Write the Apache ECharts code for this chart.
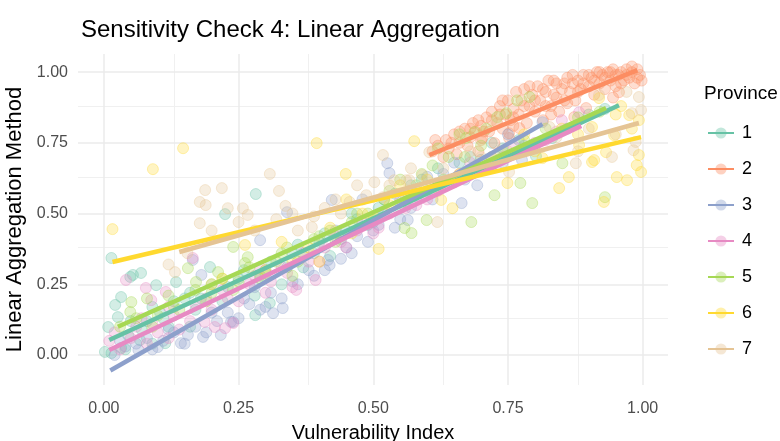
<!DOCTYPE html>
<html>
<head>
<meta charset="utf-8">
<script src="https://cdn.jsdelivr.net/npm/echarts@6/dist/echarts.min.js"></script>
<style>
  html, body { margin: 0; padding: 0; background: #fff; }
  #chart { width: 780px; height: 441px; }
</style>
</head>
<body>
<div id="chart"></div>
<script>
// tick positions
var xTicks = [0, 0.25, 0.5, 0.75, 1];
var yTicks = [0, 0.25, 0.5, 0.75, 1];
var xMinor = [0.125, 0.375, 0.625, 0.875];
var yMinor = [0.125, 0.375, 0.625, 0.875];

var provinces = ['1', '2', '3', '4', '5', '6', '7'];
var colors = ['#66c2a5', '#fc8d62', '#8da0cb', '#e78ac3', '#a6d854', '#ffd92f', '#e5c494'];

// points per province, [vulnerability index, linear aggregation]
var p1 = [[0.002,0.011],[0.014,0.007],[0.032,0.025],[0.008,0.099],[0.026,0.134],[0.021,0.177],[0.032,0.205],[0.014,0.343],
  [0.049,0.276],[0.054,0.283],[0.069,0.29],[0.097,0.247],[0.134,0.258],[0.104,0.152],[0.067,0.053],[0.114,0.042],[0.197,0.311],
  [0.045,0.07],[0.08,0.12],[0.12,0.1],[0.15,0.2],[0.17,0.16],[0.22,0.19],[0.25,0.27],[0.28,0.21],[0.281,0.141],[0.308,0.184],
  [0.3,0.3],[0.33,0.25],[0.35,0.36],[0.37,0.31],[0.4,0.4],[0.42,0.35],[0.45,0.44],[0.47,0.48],[0.5,0.47],[0.52,0.55],[0.55,0.52],
  [0.57,0.6],[0.6,0.58],[0.62,0.66],[0.65,0.62],[0.68,0.7],[0.282,0.569],[0.225,0.498],[0.802,0.703],[0.832,0.767],[0.72,0.75],[0.9,0.85],
  [0.05,0.12],[0.07,0.09],[0.09,0.17],[0.11,0.13],[0.13,0.19],[0.16,0.22],[0.18,0.2],[0.2,0.25],[0.23,0.24],[0.26,0.3],[0.29,0.28],
  [0.31,0.33],[0.34,0.31],[0.36,0.39],[0.39,0.36],[0.41,0.43],[0.44,0.41],[0.46,0.5],[0.49,0.46],[0.51,0.52],[0.54,0.57],[0.56,0.54],
  [0.59,0.62],[0.63,0.61],[0.66,0.68],[0.7,0.69],[0.74,0.73],[0.77,0.76],[0.86,0.8],[0.93,0.87],[0.04,0.02],[0.09,0.04],[0.16,0.1]];
var p2 = [[0.61,0.72],[0.62,0.74],[0.63,0.7],[0.635,0.76],[0.64,0.73],[0.65,0.78],[0.655,0.71],[0.66,0.75],[0.67,0.8],[0.675,0.74],
  [0.68,0.77],[0.685,0.82],[0.69,0.79],[0.695,0.72],[0.7,0.81],[0.702,0.767],[0.71,0.84],[0.715,0.79],[0.72,0.86],[0.725,0.749],
  [0.73,0.82],[0.735,0.88],[0.74,0.8],[0.745,0.85],[0.75,0.9],[0.752,0.767],[0.755,0.83],[0.76,0.87],[0.765,0.93],[0.77,0.85],
  [0.771,0.802],[0.775,0.9],[0.78,0.94],[0.785,0.82],[0.79,0.88],[0.795,0.92],[0.8,0.86],[0.805,0.95],[0.81,0.9],[0.815,0.83],
  [0.82,0.93],[0.825,0.97],[0.83,0.88],[0.835,0.92],[0.84,0.96],[0.845,0.86],[0.85,0.94],[0.855,0.9],[0.86,0.98],[0.865,0.93],
  [0.87,0.96],[0.873,0.841],[0.875,0.9],[0.88,0.97],[0.885,0.94],[0.89,0.99],[0.895,0.873],[0.9,0.95],[0.905,0.98],[0.91,0.92],
  [0.915,1.0],[0.92,0.96],[0.925,0.99],[0.93,0.94],[0.935,1.0],[0.94,0.97],[0.945,1.01],[0.95,0.95],[0.955,0.99],[0.956,0.929],
  [0.96,1.0],[0.965,0.97],[0.97,1.01],[0.975,0.98],[0.98,1.0],[0.985,0.96],[0.99,1.01],[0.995,0.99],[0.998,0.97],[0.752,0.784],[0.7,0.76],
  [0.615,0.76],[0.645,0.75],[0.66,0.79],[0.68,0.8],[0.695,0.83],[0.705,0.79],[0.72,0.83],[0.735,0.85],[0.74,0.9],[0.76,0.84],
  [0.78,0.88],[0.79,0.95],[0.8,0.9],[0.815,0.94],[0.82,0.88],[0.835,0.97],[0.84,0.91],[0.855,0.96],[0.86,0.89],[0.87,0.99],
  [0.88,0.93],[0.89,0.96],[0.9,0.99],[0.91,0.97],[0.92,1.0],[0.93,0.98],[0.94,1.0],[0.95,0.99],[0.96,0.96],[0.97,0.99],
  [0.98,1.02],[0.99,0.98],[0.945,0.91],[0.83,0.85],[0.76,0.81]];
var p3 = [[0.02,0.0],[0.04,0.03],[0.064,0.018],[0.1,0.028],[0.143,0.042],[0.156,0.071],[0.184,0.064],[0.217,0.071],[0.236,0.117],
  [0.181,0.283],[0.165,0.336],[0.08,0.06],[0.12,0.09],[0.2,0.15],[0.26,0.2],[0.3,0.17],[0.314,0.148],[0.332,0.166],[0.35,0.26],
  [0.38,0.3],[0.416,0.336],[0.419,0.318],[0.45,0.38],[0.47,0.42],[0.5,0.44],[0.52,0.5],[0.55,0.48],[0.564,0.477],[0.58,0.56],
  [0.62,0.6],[0.29,0.406],[0.34,0.505],[0.423,0.548],[0.526,0.678],[0.53,0.643],[0.664,0.537],[0.693,0.6],[0.776,0.689],
  [0.814,0.823],[0.72,0.7],[0.75,0.78],[0.65,0.68],[0.6,0.63],[0.24,0.117],[0.28,0.24],[0.43,0.44],[0.48,0.55],
  [0.03,0.05],[0.06,0.04],[0.09,0.02],[0.11,0.05],[0.13,0.08],[0.15,0.04],[0.17,0.1],[0.19,0.08],[0.21,0.12],[0.23,0.15],
  [0.25,0.13],[0.27,0.18],[0.29,0.16],[0.31,0.22],[0.33,0.2],[0.36,0.25],[0.39,0.28],[0.41,0.3],[0.44,0.34],[0.46,0.36],
  [0.49,0.4],[0.51,0.46],[0.54,0.45],[0.57,0.52],[0.61,0.55],[0.63,0.64],[0.67,0.62],[0.7,0.66],[0.74,0.68],[0.78,0.74]];
var p4 = [[0.01,0.05],[0.03,0.02],[0.041,0.265],[0.078,0.237],[0.088,0.194],[0.115,0.223],[0.165,0.343],[0.24,0.113],[0.225,0.095],
  [0.206,0.099],[0.187,0.117],[0.06,0.1],[0.1,0.08],[0.13,0.14],[0.16,0.12],[0.19,0.2],[0.23,0.2],[0.27,0.25],[0.3,0.22],[0.35,0.24],
  [0.357,0.23],[0.393,0.265],[0.33,0.31],[0.38,0.33],[0.41,0.38],[0.44,0.4],[0.47,0.44],[0.5,0.43],[0.53,0.5],[0.56,0.52],[0.6,0.55],
  [0.63,0.6],[0.66,0.64],[0.7,0.66],[0.74,0.7],[0.78,0.72],[0.82,0.76],[0.882,0.858],[0.85,0.83],[0.29,0.31],
  [0.02,0.08],[0.05,0.06],[0.07,0.13],[0.09,0.11],[0.12,0.17],[0.14,0.09],[0.17,0.18],[0.2,0.16],[0.22,0.23],[0.25,0.19],
  [0.28,0.28],[0.31,0.26],[0.34,0.29],[0.37,0.36],[0.4,0.33],[0.43,0.42],[0.45,0.38],[0.48,0.47],[0.51,0.45],[0.55,0.55],
  [0.58,0.53],[0.62,0.58],[0.65,0.61],[0.68,0.68],[0.72,0.67],[0.76,0.74],[0.8,0.75],[0.84,0.79],[0.08,0.04],[0.12,0.06]];
var p5 = [[0.049,0.152],[0.051,0.187],[0.156,0.307],[0.171,0.258],[0.212,0.293],[0.262,0.325],[0.24,0.382],[0.267,0.346],
  [0.599,0.477],[0.571,0.431],[0.558,0.449],[0.682,0.47],[0.725,0.565],[0.795,0.537],[0.773,0.608],[0.851,0.678],[0.93,0.558],
  [0.767,0.9],[0.79,0.912],[0.747,0.855],[0.73,0.841],[0.688,0.788],[0.672,0.767],[0.09,0.1],[0.13,0.17],[0.2,0.22],[0.3,0.29],
  [0.33,0.36],[0.36,0.33],[0.4,0.42],[0.43,0.4],[0.46,0.47],[0.49,0.5],[0.52,0.55],[0.55,0.62],[0.58,0.6],[0.61,0.67],[0.64,0.7],
  [0.7,0.74],[0.62,0.73],[0.66,0.78],[0.35,0.28],[0.25,0.26],
  [0.03,0.1],[0.06,0.13],[0.08,0.2],[0.1,0.14],[0.12,0.21],[0.14,0.16],[0.17,0.23],[0.19,0.19],[0.22,0.27],[0.24,0.23],
  [0.27,0.31],[0.29,0.27],[0.32,0.33],[0.34,0.38],[0.37,0.35],[0.39,0.41],[0.42,0.44],[0.44,0.42],[0.47,0.5],[0.5,0.48],
  [0.53,0.58],[0.56,0.56],[0.59,0.64],[0.63,0.62],[0.67,0.7],[0.71,0.8],[0.74,0.72],[0.78,0.76],[0.82,0.8],[0.88,0.84],[0.92,0.86]];
var p6 = [[0.016,0.445],[0.091,0.657],[0.147,0.731],[0.395,0.749],[0.449,0.64],[0.576,0.756],[0.919,0.908],[0.975,0.848],
  [0.993,0.83],[0.947,0.777],[0.906,0.806],[0.932,0.717],[0.91,0.689],[0.993,0.707],[0.989,0.671],[0.997,0.647],[0.952,0.629],
  [0.971,0.618],[0.928,0.541],[0.845,0.59],[0.863,0.629],[0.749,0.608],[0.647,0.519],[0.626,0.548],[0.814,0.696],[0.906,0.682],
  [0.882,0.742],[0.262,0.389],[0.51,0.375],[0.3,0.3],[0.35,0.33],[0.42,0.45],[0.48,0.5],[0.53,0.53],[0.55,0.6],[0.6,0.62],
  [0.7,0.66],[0.78,0.78],[0.85,0.8],[0.96,0.88],[0.22,0.27],[0.45,0.55],
  [0.38,0.38],[0.4,0.33],[0.46,0.43],[0.5,0.49],[0.57,0.56],[0.62,0.59],[0.66,0.64],[0.72,0.7],[0.8,0.72],[0.88,0.78],
  [0.95,0.85],[0.98,0.8],[0.2,0.25],[0.33,0.4]];
var p7 = [[0.178,0.541],[0.188,0.583],[0.189,0.53],[0.219,0.59],[0.178,0.466],[0.23,0.519],[0.258,0.519],[0.267,0.495],
  [0.308,0.64],[0.325,0.58],[0.337,0.527],[0.386,0.452],[0.456,0.541],[0.518,0.707],[0.502,0.611],[0.539,0.618],[0.567,0.618],
  [0.591,0.636],[0.487,0.565],[0.604,0.717],[0.752,0.647],[0.876,0.678],[0.943,0.7],[0.993,0.912],[0.997,0.866],[0.98,0.855],
  [0.987,0.753],[0.983,0.724],[0.827,0.806],[0.619,0.47],[0.518,0.558],[0.561,0.618],[0.66,0.76],[0.728,0.823],[0.919,0.919],
  [0.132,0.293],[0.155,0.36],[0.41,0.52],[0.44,0.5],[0.68,0.72],[0.8,0.74],[0.9,0.8],[0.36,0.44],[0.12,0.32],
  [0.2,0.44],[0.25,0.47],[0.28,0.44],[0.32,0.48],[0.35,0.5],[0.39,0.49],[0.43,0.55],[0.47,0.6],[0.53,0.6],[0.57,0.66],
  [0.63,0.66],[0.7,0.7],[0.75,0.72],[0.84,0.77],[0.88,0.72],[0.95,0.78],[0.97,0.93]];
var points = [p1, p2, p3, p4, p5, p6, p7];

// fitted line ends per province
var fitStart = [[0.01,0.053],[0.604,0.707],[0.012,-0.055],[0.01,0.018],[0.026,0.1],[0.016,0.329],[0.14,0.364]];
var fitEnd = [[0.956,0.883],[0.99,1.007],[0.814,0.816],[0.886,0.81],[0.932,0.873],[0.997,0.77],[0.993,0.82]];

function rgba(hex, a) {
  var n = parseInt(hex.slice(1), 16);
  return 'rgba(' + (n >> 16) + ',' + ((n >> 8) & 255) + ',' + (n & 255) + ',' + a + ')';
}

var FONT = 'Liberation Sans, Arial, sans-serif';
var chart = echarts.init(document.getElementById('chart'), null, { renderer: 'canvas' });

var series = [];
// background grid
var gridLines = [];
xMinor.forEach(function (v) { gridLines.push({ xAxis: v, lineStyle: { width: 1, color: '#f0f0f0' } }); });
yMinor.forEach(function (v) { gridLines.push({ yAxis: v, lineStyle: { width: 1, color: '#f0f0f0' } }); });
xTicks.forEach(function (v) { gridLines.push({ xAxis: v, lineStyle: { width: 1.5, color: '#ebebeb' } }); });
yTicks.forEach(function (v) { gridLines.push({ yAxis: v, lineStyle: { width: 1.5, color: '#ebebeb' } }); });
series.push({
  type: 'scatter', data: [], silent: true, z: 0, zlevel: 0,
  markLine: { silent: true, symbol: 'none', label: { show: false }, animation: false, z: 0,
    lineStyle: { type: 'solid' }, data: gridLines }
});

for (var i = 0; i < provinces.length; i++) {
  series.push({
    type: 'scatter', name: 'pts' + provinces[i], data: points[i], symbolSize: 11, z: 2, zlevel: 1,
    itemStyle: { color: rgba(colors[i], 0.36), borderColor: rgba(colors[i], 0.45), borderWidth: 1 }
  });
}
for (var j = 0; j < provinces.length; j++) {
  series.push({
    type: 'line', name: provinces[j], data: [fitStart[j], fitEnd[j]], z: 3, zlevel: 1,
    symbol: 'circle', symbolSize: 9, showSymbol: false,
    lineStyle: { color: colors[j], width: 4.5 },
    itemStyle: { color: rgba(colors[j], 0.4) }
  });
}

chart.setOption({
  animation: false,
  backgroundColor: '#fff',
  title: [
    { text: 'Sensitivity Check 4: Linear Aggregation', left: 76, top: 13,
      textStyle: { fontFamily: FONT, fontSize: 24, fontWeight: 'normal', color: '#000' } },
    { text: 'Province', left: 699, top: 79,
      textStyle: { fontFamily: FONT, fontSize: 19, fontWeight: 'normal', color: '#000' } }
  ],
  legend: {
    data: provinces, orient: 'vertical', left: 702, top: 119,
    itemWidth: 26, itemHeight: 14, itemGap: 18,
    textStyle: { fontFamily: FONT, fontSize: 18, color: '#000', padding: [0, 0, 0, 3] }
  },
  grid: { left: 78, right: 112, top: 54, bottom: 56, outerBoundsMode: 'none', containLabel: false },
  xAxis: {
    type: 'value', min: -0.048, max: 1.047,
    name: 'Vulnerability Index', nameLocation: 'middle', nameGap: 38,
    nameTextStyle: { fontFamily: FONT, fontSize: 20, color: '#000' },
    axisLine: { show: false }, axisTick: { show: false }, splitLine: { show: false },
    axisLabel: { customValues: xTicks, margin: 16, fontFamily: FONT, fontSize: 16, color: '#4d4d4d',
      formatter: function (v) { return v.toFixed(2); } }
  },
  yAxis: {
    type: 'value', min: -0.106, max: 1.064,
    name: 'Linear Aggregation Method', nameLocation: 'middle', nameGap: 42,
    nameTextStyle: { fontFamily: FONT, fontSize: 22, color: '#000' },
    axisLine: { show: false }, axisTick: { show: false }, splitLine: { show: false },
    axisLabel: { customValues: yTicks, margin: 10, fontFamily: FONT, fontSize: 16, color: '#4d4d4d',
      formatter: function (v) { return v.toFixed(2); } }
  },
  series: series
});
</script>
</body>
</html>
